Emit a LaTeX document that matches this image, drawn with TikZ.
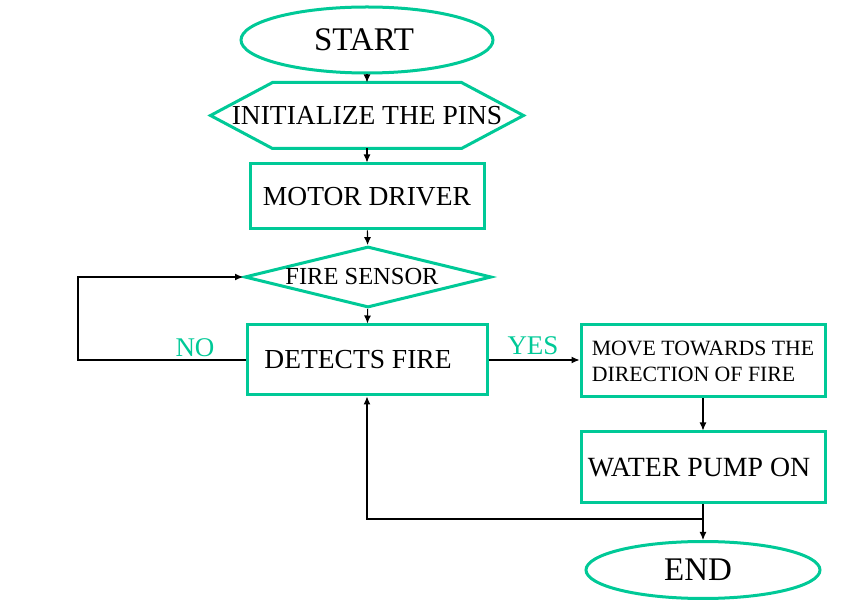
\documentclass[tikz,border=0pt]{standalone}
\usepackage{fontspec}
\setmainfont{Liberation Serif}
\usepackage{xcolor}
\usetikzlibrary{positioning}
\usetikzlibrary{shapes.geometric}
\usetikzlibrary{arrows.meta}
\definecolor{flowgreen}{RGB}{0,201,151}
\begin{document}
\begin{tikzpicture}
    [%%%%%%%%%%%%%%%%%%%%%%%%%%%%%%
        x=1pt,y=-1pt,
        box/.style={rectangle,draw=flowgreen,line width=3pt,inner sep=0pt,font=\fontsize{27.5}{30}\selectfont},
        oval/.style={ellipse,draw=flowgreen,line width=3pt,inner sep=0pt,font=\fontsize{33}{36}\selectfont},
        link/.style={line width=1.1pt,-{Latex[length=8pt,width=7pt]}},
        answer/.style={text=flowgreen,font=\fontsize{27}{30}\selectfont}
    ]%%%%%%%%%%%%%%%%%%%%%%%%%%%%%%
\useasboundingbox (0,0) rectangle (855,601);

\node[oval,minimum width=252pt,minimum height=66pt] (start) at (367,40) {START\kern6pt};
\node[box,draw=none,minimum width=310pt,minimum height=63pt] (init) at (367,115.5) {INITIALIZE THE PINS};
\draw[flowgreen,line width=3pt,line join=miter]
    (init.west) -- ([xshift=62pt]init.north west) -- ([xshift=-62pt]init.north east)
    -- (init.east) -- ([xshift=-62pt]init.south east) -- ([xshift=62pt]init.south west) -- cycle;
\node[box,minimum width=234pt,minimum height=65pt] (motor) at (367,196.5) {MOTOR DRIVER};
\node[diamond,draw=flowgreen,line width=3pt,inner sep=0pt,shape aspect=4,
      minimum width=247pt,minimum height=61pt,font=\fontsize{24.5}{26}\selectfont] (sensor) at (368,277) {FIRE SENSOR\kern12pt};
\node[box,minimum width=240pt,minimum height=70pt] (detect) at (367,360) {DETECTS FIRE\kern18pt};
\node[box,minimum width=244pt,minimum height=72pt,align=left,font=\fontsize{21.8}{26}\selectfont] (move) at (703,361) {MOVE TOWARDS THE\\DIRECTION OF FIRE};
\node[box,minimum width=244pt,minimum height=71pt,font=\fontsize{27.8}{30}\selectfont] (pump) at (703,467.5) {WATER PUMP ON\kern8pt};
\node[oval,minimum width=234pt,minimum height=57pt] (end) at (703,570) {END\kern10pt};

\node[answer] (no) at (195,348) {NO};
\node[answer] (yes) at (533,346) {YES};

\coordinate (noturn) at (78,360);
\coordinate (join) at (703,519);

\draw[link] (start) -- (init);
\draw[link] (init) -- (motor);
\draw[link] (motor) -- (sensor);
\draw[link] (sensor) -- (detect);
\draw[link] (detect.west) -- (noturn) |- (sensor.west);
\draw[link] (detect.east) -- (detect.east -| move.west);
\draw[link] (move) -- (pump);
\draw[link] (pump) -- (end);
\draw[link] (join) -| (detect.south);

\end{tikzpicture}
\end{document}
